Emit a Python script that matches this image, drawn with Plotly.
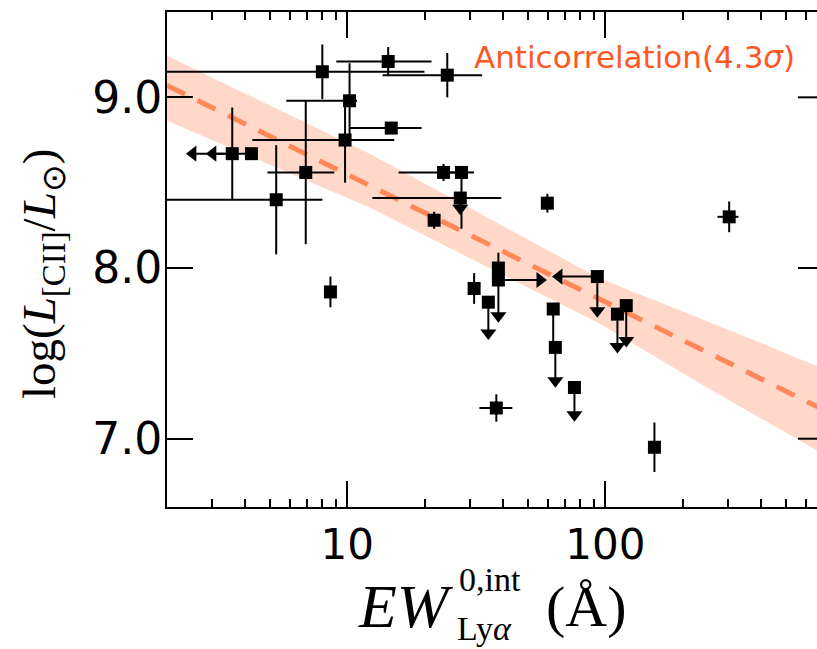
import math
import plotly.graph_objects as go

# ---------------- data ----------------
# x: EW_Lya (Angstrom), y: log L[CII]
EW     = [8.0, 14.4, 24.4, 10.2, 9.8, 14.8, 6.9, 3.58, 4.25, 5.3, 23.6, 27.7, 27.4, 21.7,
          59.6, 302, 8.6, 31.0, 35.2, 38.5, 38.5, 93.1, 62.8, 64.0, 75.9, 111.4, 120.5, 155, 37.8]
LOGL   = [9.15, 9.21, 9.13, 8.98, 8.75, 8.82, 8.56, 8.67, 8.67, 8.40, 8.56, 8.56, 8.41, 8.28,
          8.38, 8.30, 7.86, 7.88, 7.80, 8.00, 7.93, 7.95, 7.76, 7.535, 7.30, 7.73, 7.78, 6.95, 7.18]
# lower / upper ends of the EW error bars (same as EW when there is none)
EW_LO  = [1.0, 9.06, 13.7, 5.8, 4.28, 10.2, 4.9, 3.58, 4.25, 1.0, 15.8, 24.0, 12.5, 21.7,
          57.0, 272, 8.6, 29.8, 35.2, 38.5, 38.5, 93.1, 62.8, 64.0, 75.9, 111.4, 120.5, 155, 32.5]
EW_HI  = [19.9, 21.2, 33.3, 10.9, 15.2, 19.4, 8.9, 3.58, 4.25, 8.0, 27.0, 31.0, 39.5, 21.7,
          62.0, 328, 8.6, 32.6, 35.2, 38.5, 38.5, 93.1, 62.8, 64.0, 75.9, 111.4, 120.5, 155, 43.6]
# log L error (upper, lower)
L_ERR_UP = [0.16, 0.085, 0.13, 0.22, 0.25, 0.03, 0.42, 0.27, 0.0, 0.32, 0.05, 0.0, 0.0, 0.05,
            0.055, 0.09, 0.09, 0.09, 0.0, 0.09, 0.0, 0.0, 0.0, 0.0, 0.0, 0.0, 0.0, 0.145, 0.08]
L_ERR_DN = [0.16, 0.085, 0.13, 0.22, 0.25, 0.03, 0.42, 0.27, 0.0, 0.32, 0.05, 0.33, 0.0, 0.05,
            0.055, 0.09, 0.09, 0.09, 0.0, 0.09, 0.0, 0.0, 0.21, 0.0, 0.0, 0.0, 0.0, 0.145, 0.08]

# upper limits on L[CII] (down arrows): index of point and arrow end
UL_IDX = [12, 18, 20, 21, 23, 24, 25, 26]
UL_END = [8.35, 7.62, 7.72, 7.75, 7.34, 7.14, 7.54, 7.575]
# limits on EW (horizontal arrows): index of point and arrow end
XL_IDX = [7, 8, 21, 20]
XL_END = [2.52, 3.01, 66.1, 55.8]

# anticorrelation fit and its band
FIT_EW = [2.0, 700.0]
FIT_L = [9.07, 7.17]
BAND_EW = [2.0, 12.2, 94.8, 257.0, 700.0]
BAND_HI = [9.243, 8.67, 7.94, 7.68, 7.41]
BAND_LO = [8.863, 8.354, 7.675, 7.285, 6.91]

LABEL = "Anticorrelation(4.3<i>σ</i>)"

# ---------------- figure ----------------
W, H = 817, 649
L_M, R_M, T_M, B_M = 167, 0, 12, 142
PW, PH = W - L_M - R_M, H - T_M - B_M


def px(xp):
    return (xp - L_M) / PW


def py(yp):
    return (H - B_M - yp) / PH


fig = go.Figure()

# band
fig.add_trace(go.Scatter(
    x=BAND_EW + BAND_EW[::-1], y=BAND_HI + BAND_LO[::-1],
    fill="toself", fillcolor="rgba(255,127,80,0.3)", line=dict(width=0),
    mode="lines", hoverinfo="skip", showlegend=False))

# fit line
fig.add_trace(go.Scatter(
    x=FIT_EW, y=FIT_L, mode="lines",
    line=dict(color="rgb(255,135,90)", width=5, dash="20px,14px"),
    showlegend=False))

# arrow shafts
ax, ay = [], []
for i, e in zip(UL_IDX, UL_END):
    ax += [EW[i], EW[i], None]
    ay += [LOGL[i], e, None]
for i, e in zip(XL_IDX, XL_END):
    ax += [EW[i], e, None]
    ay += [LOGL[i], LOGL[i], None]
fig.add_trace(go.Scatter(x=ax, y=ay, mode="lines",
                         line=dict(color="black", width=2), showlegend=False))

# arrow heads
fig.add_trace(go.Scatter(
    x=[EW[i] for i in UL_IDX], y=UL_END, mode="markers",
    marker=dict(symbol="triangle-down", size=14, color="black"), showlegend=False))
fig.add_trace(go.Scatter(
    x=[e for i, e in zip(XL_IDX, XL_END) if e < EW[i]],
    y=[LOGL[i] for i, e in zip(XL_IDX, XL_END) if e < EW[i]], mode="markers",
    marker=dict(symbol="triangle-left", size=14, color="black"), showlegend=False))
fig.add_trace(go.Scatter(
    x=[e for i, e in zip(XL_IDX, XL_END) if e > EW[i]],
    y=[LOGL[i] for i, e in zip(XL_IDX, XL_END) if e > EW[i]], mode="markers",
    marker=dict(symbol="triangle-right", size=14, color="black"), showlegend=False))

# points with error bars
fig.add_trace(go.Scatter(
    x=EW, y=LOGL, mode="markers",
    marker=dict(symbol="square", size=13, color="black"),
    error_x=dict(type="data", symmetric=False,
                 array=[h - x for h, x in zip(EW_HI, EW)],
                 arrayminus=[x - l for l, x in zip(EW_LO, EW)],
                 color="black", thickness=2, width=0),
    error_y=dict(type="data", symmetric=False, array=L_ERR_UP, arrayminus=L_ERR_DN,
                 color="black", thickness=2, width=0),
    showlegend=False))

x_lo = math.log10(2.0)
x_hi = x_lo + PW / 258.0
minor_vals = [2, 3, 4, 5, 6, 7, 8, 9, 20, 30, 40, 50, 60, 70, 80, 90, 200, 300, 400, 500, 600]

fig.update_layout(
    width=W, height=H, margin=dict(l=L_M, r=R_M, t=T_M, b=B_M),
    plot_bgcolor="white", paper_bgcolor="white",
    font=dict(family="DejaVu Sans", color="black"),
    xaxis=dict(type="log", range=[x_lo, x_hi], showgrid=False, zeroline=False,
               showline=True, linecolor="black", linewidth=2, mirror="ticks",
               ticks="inside", ticklen=26, tickwidth=2, tickcolor="black",
               tickvals=[10, 100], ticktext=["10", "100"],
               tickfont=dict(size=42, family="DejaVu Sans"),
               minor=dict(ticks="inside", ticklen=8, tickwidth=1.5, tickcolor="black",
                          tickvals=minor_vals, showgrid=False)),
    yaxis=dict(range=[6.6, 9.5], showgrid=False, zeroline=False,
               showline=True, linecolor="black", linewidth=2, mirror=False,
               ticks="inside", ticklen=26, tickwidth=2, tickcolor="black",
               tickvals=[7, 8, 9], ticktext=["7.0", "8.0", "9.0"],
               ticklabelstandoff=-6,
               tickfont=dict(size=44, family="DejaVu Sans")),
)

# right-hand ticks (the right spine lies just outside the picture)
for v in [7, 8, 9]:
    fig.add_shape(type="line", xref="paper", yref="y", x0=px(798), x1=1.0, y0=v, y1=v,
                  line=dict(color="black", width=2))

# label of the fit
fig.add_annotation(text=LABEL, xref="paper", yref="paper", x=px(472), y=py(57),
                   xanchor="left", yanchor="middle", showarrow=False,
                   font=dict(family="DejaVu Sans", size=31, color="rgb(255,87,34)"))

# y title
fig.add_annotation(text="log(<i>L</i><sub>[CII]</sub>/<i>L</i><sub>⊙</sub>)",
                   xref="paper", yref="paper", x=px(42), y=py(274),
                   xanchor="center", yanchor="middle", textangle=-90, showarrow=False,
                   font=dict(family="Liberation Serif", size=47, color="black"))

# x title pieces
serif = "Liberation Serif"
fig.add_annotation(text="<i>EW</i>", xref="paper", yref="paper", x=px(356), y=py(606),
                   xanchor="left", yanchor="middle", showarrow=False,
                   font=dict(family=serif, size=62, color="black"))
fig.add_annotation(text="0,int", xref="paper", yref="paper", x=px(457), y=py(579),
                   xanchor="left", yanchor="middle", showarrow=False,
                   font=dict(family=serif, size=34, color="black"))
fig.add_annotation(text="Ly<i>α</i>", xref="paper", yref="paper", x=px(455), y=py(628),
                   xanchor="left", yanchor="middle", showarrow=False,
                   font=dict(family=serif, size=34, color="black"))
fig.add_annotation(text="(Å)", xref="paper", yref="paper", x=px(544), y=py(606),
                   xanchor="left", yanchor="middle", showarrow=False,
                   font=dict(family=serif, size=58, color="black"))

fig.write_html("out.html")
